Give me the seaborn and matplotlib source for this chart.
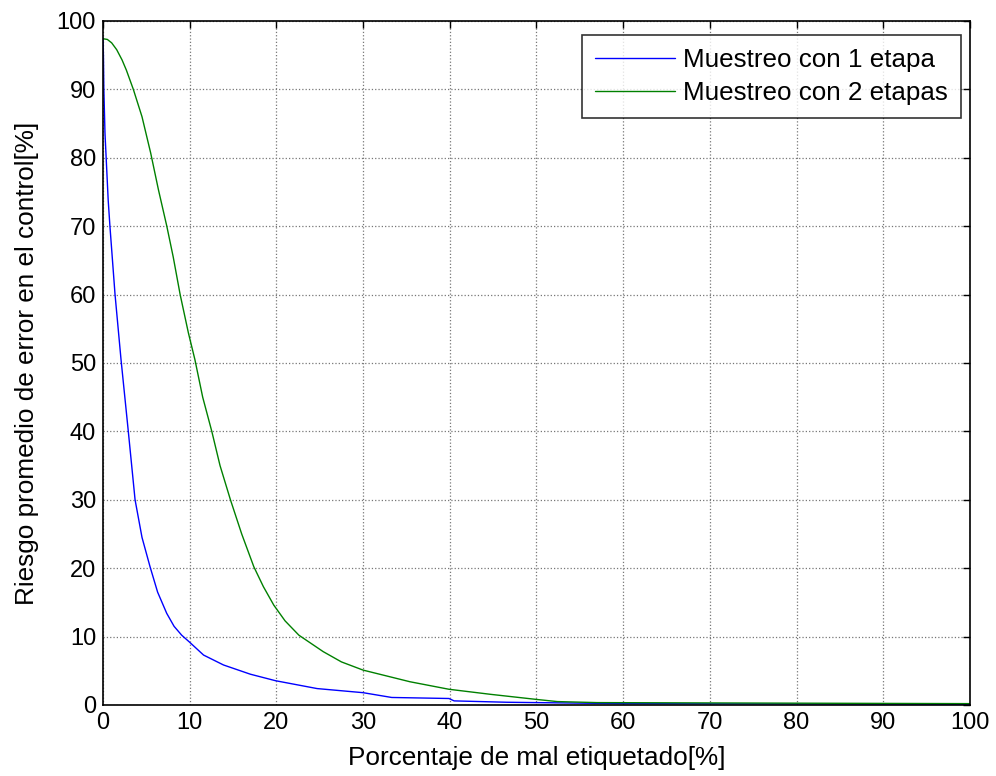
import numpy as np
import pandas as pd
import seaborn as sns
import matplotlib
matplotlib.use("Agg")
import matplotlib.pyplot as plt

# values
x_una = [0, 0.05, 0.1, 0.23, 0.6, 0.8, 1.39, 2.08, 2.92, 3.7, 4.5, 5.43, 6.3, 7.35, 8.2, 9.08, 9.93,
         11.6, 13.9, 17.0, 19.9, 24.7, 30.0, 33.3, 39.9, 40.5, 46.6, 60, 80, 100]
y_una = [97.5, 95, 90, 83.6, 73.8, 70, 60, 50.5, 40, 30, 24.5, 20.2, 16.5, 13.4, 11.5, 10.2, 9.25,
         7.3, 5.85, 4.5, 3.55, 2.4, 1.8, 1.1, 0.95, 0.6, 0.4, 0.2, 0.15, 0.1]

x_dos = [0, 0.5, 1.0, 1.58, 2.2, 2.7, 3.5, 4.5, 5.5, 6.4, 7.36, 8.1, 8.9, 9.85, 10.6, 11.5, 12.55,
         13.5, 14.7, 16.0, 17.4, 18.5, 19.7, 21.0, 22.6, 25.4, 27.5, 30.0, 35.4, 39.9, 44.7,
         50.1, 52.4, 57, 70, 100]
y_dos = [97.4, 97.3, 96.8, 95.8, 94.3, 92.8, 90, 86, 80.7, 75.3, 70, 65.5, 60, 54.4, 50.5, 45, 40,
         35, 30, 25, 20.2, 17.3, 14.6, 12.3, 10.2, 7.8, 6.3, 5.1, 3.4, 2.3, 1.56,
         0.8, 0.5, 0.35, 0.3, 0.2]

series = ["Muestreo con 1 etapa", "Muestreo con 2 etapas"]
colors = ["#0000ff", "#008000"]
ticks = list(range(0, 101, 10))

df = pd.concat([
    pd.DataFrame({"x": x_una, "y": y_una, "serie": series[0]}),
    pd.DataFrame({"x": x_dos, "y": y_dos, "serie": series[1]}),
])

sns.set_style("white")
plt.rcParams["font.family"] = ["Liberation Sans", "DejaVu Sans"]
plt.rcParams["text.color"] = "black"
plt.rcParams["axes.labelcolor"] = "black"

fig = plt.figure(figsize=(9.96, 7.76), dpi=100)
ax = fig.add_axes([0.1034, 0.0915, 0.8705, 0.8815])

sns.lineplot(data=df, x="x", y="y", hue="serie", palette=colors, hue_order=series,
             linewidth=1.0, ax=ax, sort=False, estimator=None)

ax.set_xlim(0, 100)
ax.set_ylim(0, 100)
ax.set_xticks(ticks)
ax.set_yticks(ticks)
ax.grid(True, color="#777777", linestyle=":", linewidth=0.9)
ax.tick_params(direction="in", length=5, width=1, top=True, right=True,
               labelsize=17, colors="black", pad=5)
for s in ax.spines.values():
    s.set_color("black")
    s.set_linewidth(1.2)

ax.set_xlabel("Porcentaje de mal etiquetado[%]", fontsize=18.8, labelpad=9, color="black")
ax.set_ylabel("Riesgo promedio de error en el control[%]", fontsize=18.8, labelpad=13, color="black")

leg = ax.legend(loc="upper right", bbox_to_anchor=(0.9896, 0.9795), borderaxespad=0,
                fontsize=18.7, frameon=True, fancybox=False, edgecolor="black",
                handlelength=3.1, handletextpad=0.3, borderpad=0.5, labelspacing=0.35,
                labelcolor="black")
leg.get_frame().set_linewidth(1.2)
leg.set_title(None)

fig.savefig("out.png", dpi=100)
